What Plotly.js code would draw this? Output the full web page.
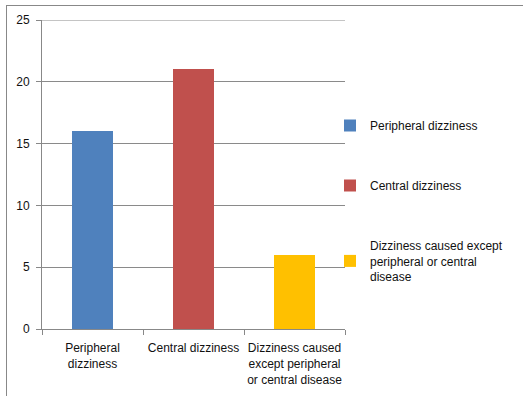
<!DOCTYPE html>
<html>
<head>
<meta charset="utf-8">
<script src="https://cdn.plot.ly/plotly-3.0.1.min.js"></script>
<style>
html,body{margin:0;padding:0;background:#fff;}
#chart{width:523px;height:396px;}
</style>
</head>
<body>
<div id="chart"></div>
<script>
var categories = ["Peripheral<br>dizziness", "Central dizziness", "Dizziness caused<br>except peripheral<br>or central disease"];
var seriesNames = ["Peripheral dizziness", "Central dizziness", "Dizziness caused except<br>peripheral or central<br>disease"];
var values = [16, 21, 6];
var colors = ["#4F81BD", "#C0504D", "#FFC000"];
var yTicks = [0, 5, 10, 15, 20, 25];
var YMAX = 25;

var traces = categories.map(function(c, i) {
  return {
    type: "bar",
    x: [c],
    y: [values[i]],
    name: seriesNames[i],
    legendgroup: "g" + i,
    marker: {color: colors[i]},
    width: 0.4,
    hoverinfo: "x+y"
  };
});

var W = 523, H = 396, L = 42, R = 345, T = 20, B = 329;
function px(x){ return (x - L) / (R - L); }
function py(y){ return (B - y) / (B - T); }

var layout = {
  width: W, height: H,
  margin: {l: L, r: W - R, t: T, b: H - B, pad: 0},
  paper_bgcolor: "#fff",
  plot_bgcolor: "#fff",
  font: {family: "Liberation Sans, Arial, sans-serif", size: 11, color: "#111"},
  barmode: "stack",
  showlegend: true,
  legend: {
    x: px(330), y: py(111), xanchor: "left", yanchor: "top",
    tracegroupgap: 41,
    font: {size: 12, color: "#111"},
    bgcolor: "rgba(0,0,0,0)"
  },
  xaxis: {
    type: "category",
    categoryarray: categories,
    tickson: "boundaries",
    ticks: "outside",
    ticklen: 5,
    tickcolor: "#888",
    tickfont: {size: 12, color: "#111"},
    ticklabelstandoff: 8,
    showline: true,
    linecolor: "#888",
    linewidth: 1,
    showgrid: false,
    tickangle: 0,
    fixedrange: true
  },
  yaxis: {
    range: [0, YMAX],
    tickvals: yTicks,
    ticks: "outside",
    ticklen: 5,
    tickcolor: "#888",
    tickfont: {size: 12, color: "#111"},
    ticklabelstandoff: 4,
    showline: true,
    linecolor: "#888",
    gridcolor: "#8a8a8a",
    gridwidth: 1,
    zeroline: false,
    fixedrange: true
  },
  shapes: [
    {type: "line", xref: "paper", yref: "y", x0: 0, x1: 1, y0: YMAX, y1: YMAX, line: {color: "#8a8a8a", width: 1}},
    {type: "line", xref: "paper", yref: "paper", x0: px(6), x1: px(523), y0: py(5.5), y1: py(5.5), line: {color: "#888", width: 1}},
    {type: "line", xref: "paper", yref: "paper", x0: px(6.5), x1: px(6.5), y0: py(5), y1: py(396), line: {color: "#888", width: 1}}
  ]
};

Plotly.newPlot("chart", traces, layout, {displayModeBar: false, staticPlot: true});
</script>
</body>
</html>
